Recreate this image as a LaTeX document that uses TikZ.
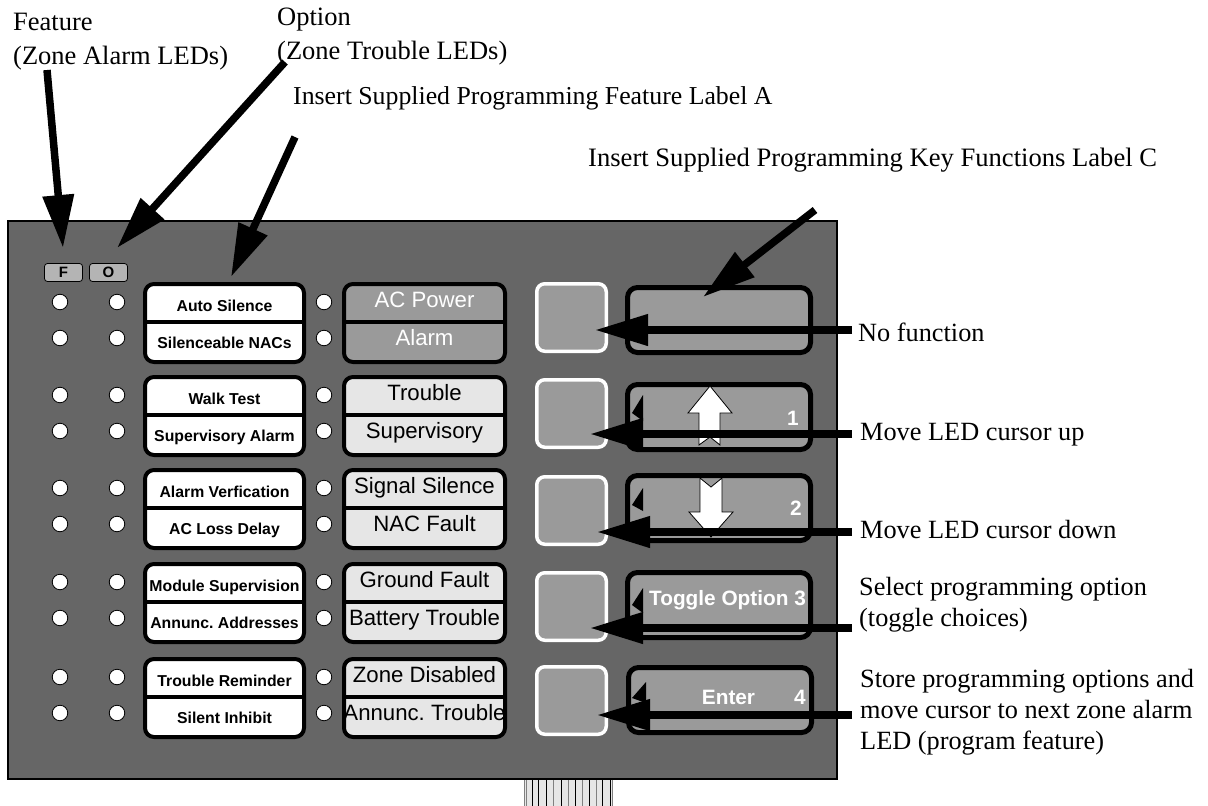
\documentclass[tikz,border=0pt]{standalone}
\usepackage{fontspec}
\setmainfont{Liberation Serif}
\setsansfont{Liberation Sans}
\usetikzlibrary{arrows.meta}
\definecolor{panelg}{HTML}{666666}
\definecolor{keyg}{HTML}{9A9A9A}
\definecolor{lightg}{HTML}{E6E6E6}
\definecolor{badgeg}{HTML}{B4B4B4}
\frenchspacing
\begin{document}
\frenchspacing
\begin{tikzpicture}[x=1pt,y=-1pt,
  serif/.style={font=\fontsize{26.3}{31}\selectfont, inner sep=0pt, align=left},
  led/.style={circle, draw=black, fill=white, line width=0.8pt, minimum size=15.5pt, inner sep=0pt},
  badge/.style={draw=black, fill=badgeg, rounded corners=3pt, line width=0.8pt, minimum width=38pt, minimum height=18pt, inner sep=0pt, font=\sffamily\bfseries\fontsize{15}{15}\selectfont},
  fbox/.style={draw=black, fill=white, line width=4pt, rounded corners=9pt, minimum width=159pt, minimum height=78pt, inner sep=0pt},
  sbox/.style={draw=black, line width=4pt, rounded corners=9pt, minimum width=161pt, minimum height=78pt, inner sep=0pt},
  divline/.style={line width=4pt},
  ftxt/.style={font=\sffamily\bfseries\fontsize{15.8}{16}\selectfont, inner sep=0pt, text height=11.5pt, text depth=3.3pt},
  stxt/.style={font=\sffamily\fontsize{22.2}{23}\selectfont, inner sep=0pt, text height=16pt, text depth=4.6pt},
  keysq/.style={draw=white, fill=keyg, line width=3.5pt, rounded corners=8pt, minimum width=69.5pt, minimum height=67.5pt, inner sep=0pt},
  keylbl/.style={draw=black, fill=keyg, line width=5pt, rounded corners=10pt, minimum width=183pt, minimum height=65pt, inner sep=0pt},
  ktxt/.style={font=\sffamily\bfseries\fontsize{20.8}{21}\selectfont, text=white, inner sep=0pt},
  bigarrow/.style={line width=7.5pt, -{Triangle[length=53pt,width=30pt]}},
  wedge/.style={fill=black},
  keyarrow/.style={fill=white, draw=black, line width=0.8pt, line join=miter},
]
\useasboundingbox[fill=white] (0,0) rectangle (1208,806);

% panel
\node[draw=black, fill=panelg, line width=1.2pt, minimum width=829pt, minimum height=558pt, inner sep=0pt] (panel) at (422.5,500) {};

% ribbon connector
\fill[lightg] (524,780) rectangle (612,806);
\foreach \x/\c in {524/gray,526/gray,532/black,538/black,546/black,553/gray,561/black,568/gray,575/black,582/gray,589/black,596/gray,602/black,610/black,612/gray}
  \draw[\c, line width=0.9pt] (\x,780) -- (\x,806);

% badges
\node[badge] (bF) at (63.5,272.5) {F};
\node[badge] (bO) at (108.5,272.5) {O};

% groups
\foreach \g/\T/\fa/\fb/\sa/\sb/\sf/\st in {
  1/282/Auto Silence/Silenceable NACs/AC Power/Alarm/keyg/white,
  2/375/Walk Test/Supervisory Alarm/Trouble/Supervisory/lightg/black,
  3/468/Alarm Verfication/AC Loss Delay/Signal Silence/NAC Fault/lightg/black,
  4/562/Module Supervision/Annunc. Addresses/Ground Fault/Battery Trouble/lightg/black,
  5/657/Trouble Reminder/Silent Inhibit/Zone Disabled/Annunc. Trouble/lightg/black}{
  \node[led] (lf\g a) at (60,\T+20) {};
  \node[led] (lf\g b) at (60,\T+56) {};
  \node[led] (lo\g a) at (117,\T+20) {};
  \node[led] (lo\g b) at (117,\T+56) {};
  \node[led] (ls\g a) at (324,\T+20) {};
  \node[led] (ls\g b) at (324,\T+56) {};
  \node[fbox] (fb\g) at (224.5,\T+41) {};
  \draw[divline] (145,\T+40) -- (304,\T+40);
  \node[ftxt] (ft\g a) at (224.5,\T+25) {\fa};
  \node[ftxt] (ft\g b) at (224.5,\T+62) {\fb};
  \node[sbox, fill=\sf] (sb\g) at (424.5,\T+41) {};
  \draw[divline] (344,\T+40) -- (505,\T+40);
  \node[stxt, text=\st] (st\g a) at (424.5,\T+20) {\sa};
  \node[stxt, text=\st] (st\g b) at (424.5,\T+58) {\sb};
}

% keys
\foreach \k/\y in {1/317.5,2/413.5,3/510.5,4/606.5,5/700.5}
  \node[keysq] (k\k) at (571.5,\y) {};
\node[keylbl] (kl1) at (719,320) {};
\node[keylbl] (kl2) at (719,417) {};
\node[keylbl] (kl3) at (719,508) {};
\node[keylbl] (kl4) at (719,605) {};
\node[keylbl] (kl5) at (720,700) {};

% up / down arrows
\draw[keyarrow] (710,386) -- (732,413) -- (720,413) -- (720,445) -- (710,437) -- (699,445) -- (699,413) -- (688,413) -- cycle;
\draw[keyarrow] (700,478) -- (711,487) -- (722,478) -- (722,512) -- (733,512) -- (711,537) -- (689,512) -- (700,512) -- cycle;
\node[ktxt] (kt1) at (793,418) {1};
\node[ktxt] (kt2) at (796,508) {2};
\node[ktxt] (kt3) at (727.5,600) {Toggle Option 3};
\node[ktxt] (kt4a) at (728.5,697) {Enter};
\node[ktxt] (kt4b) at (800,697) {4};

% small wedges
\fill[wedge] (643,395) -- (632,413) -- (643,421) -- cycle;
\fill[wedge] (643,488) -- (632,505) -- (643,511) -- cycle;
\fill[wedge] (643,588) -- (632,605) -- (643,613) -- cycle;
\fill[wedge] (646,682) -- (632,698) -- (646,703) -- cycle;

% top labels
\node[serif, font=\fontsize{26.5}{34}\selectfont, anchor=north west] (tF) at (13,12.5) {Feature\\(Zone Alarm LEDs)};
\node[serif, font=\fontsize{26.5}{34}\selectfont, anchor=north west] (tO) at (277,8) {Option\\(Zone Trouble LEDs)};
\node[serif, font=\fontsize{25.8}{30}\selectfont, anchor=base west] (tA) at (293,104) {Insert Supplied Programming Feature Label A};
\node[serif, font=\fontsize{26.6}{30}\selectfont, anchor=base west] (tC) at (588,166) {Insert Supplied Programming Key Functions Label C};

% right labels
\node[serif, anchor=base west] (r1) at (858,341) {No function};
\node[serif, anchor=base west] (r2) at (860,440) {Move LED cursor up};
\node[serif, anchor=base west] (r3) at (860,538) {Move LED cursor down};
\node[serif, anchor=north west] (r4) at (859,577.5) {Select programming option\\(toggle choices)};
\node[serif, anchor=north west] (r5) at (860,669.5) {Store programming options and\\move cursor to next zone alarm\\LED (program feature)};

% arrow anchors
\coordinate (aF0) at (47,70);   \coordinate (aF1) at (63,248);
\coordinate (aO0) at (285,62);  \coordinate (aO1) at (117,248);
\coordinate (aA0) at (295,137); \coordinate (aA1) at (231,277);
\coordinate (aC0) at (815,210); \coordinate (aC1) at (703,297);
\coordinate (s1) at (852,330);
\coordinate (s2) at (852,434);
\coordinate (s3) at (852,532);
\coordinate (s4) at (852,628);
\coordinate (s5) at (852,715);

\draw[bigarrow] (aF0) -- (aF1);
\draw[bigarrow] (aO0) -- (aO1);
\draw[bigarrow] (aA0) -- (aA1);
\draw[bigarrow] (aC0) -- (aC1);
\draw[bigarrow] (s1) -- ([xshift=-13pt]s1 -| k1.east);
\draw[bigarrow] (s2) -- ([xshift=-18pt]s2 -| k2.east);
\draw[bigarrow] (s3) -- ([xshift=-11pt]s3 -| k3.east);
\draw[bigarrow] (s4) -- ([xshift=-18pt]s4 -| k4.east);
\draw[bigarrow] (s5) -- ([xshift=-11pt]s5 -| k5.east);
\end{tikzpicture}
\end{document}
